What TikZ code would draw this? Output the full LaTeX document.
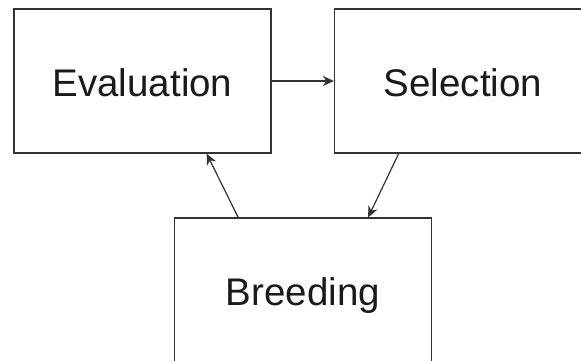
\documentclass[tikz,border=0pt]{standalone}
\usepackage{fontspec}
\setmainfont{Liberation Sans}
\usetikzlibrary{arrows.meta,calc}
\definecolor{edge}{HTML}{333333}
\definecolor{txt}{HTML}{1A1A1A}
\tikzset{
  stagebox/.style={draw=edge, line width=1.3pt, fill=white, minimum width=257pt, minimum height=144pt,
    inner sep=0pt, text=txt, font=\fontsize{38.5}{42}\selectfont, text height=31pt, text depth=0pt},
  flow/.style={draw=edge, line width=1.2pt, -{Stealth[length=11pt,width=10pt,inset=3.5pt]}}
}
\begin{document}
\begin{tikzpicture}[x=1pt,y=1pt]
\useasboundingbox (0,0) rectangle (581,360);
\clip (0,0) rectangle (581,360);
\fill[white] (0,0) rectangle (581,360);
\node[stagebox] (ev) at (142.5,279) {Evaluation};
\node[stagebox] (sel) at (463,279) {Selection};
\node[stagebox] (br) at (303,70) {Breeding};
\draw[flow] (ev.east) -- (sel.west);
\draw[flow] ($(sel.south west)+(64.8,0)$) -- ($(br.north west)+(194.3,0)$);
\draw[flow] ($(br.north west)+(64.3,0)$) -- ($(ev.south west)+(193.3,0)$);
\end{tikzpicture}
\end{document}
